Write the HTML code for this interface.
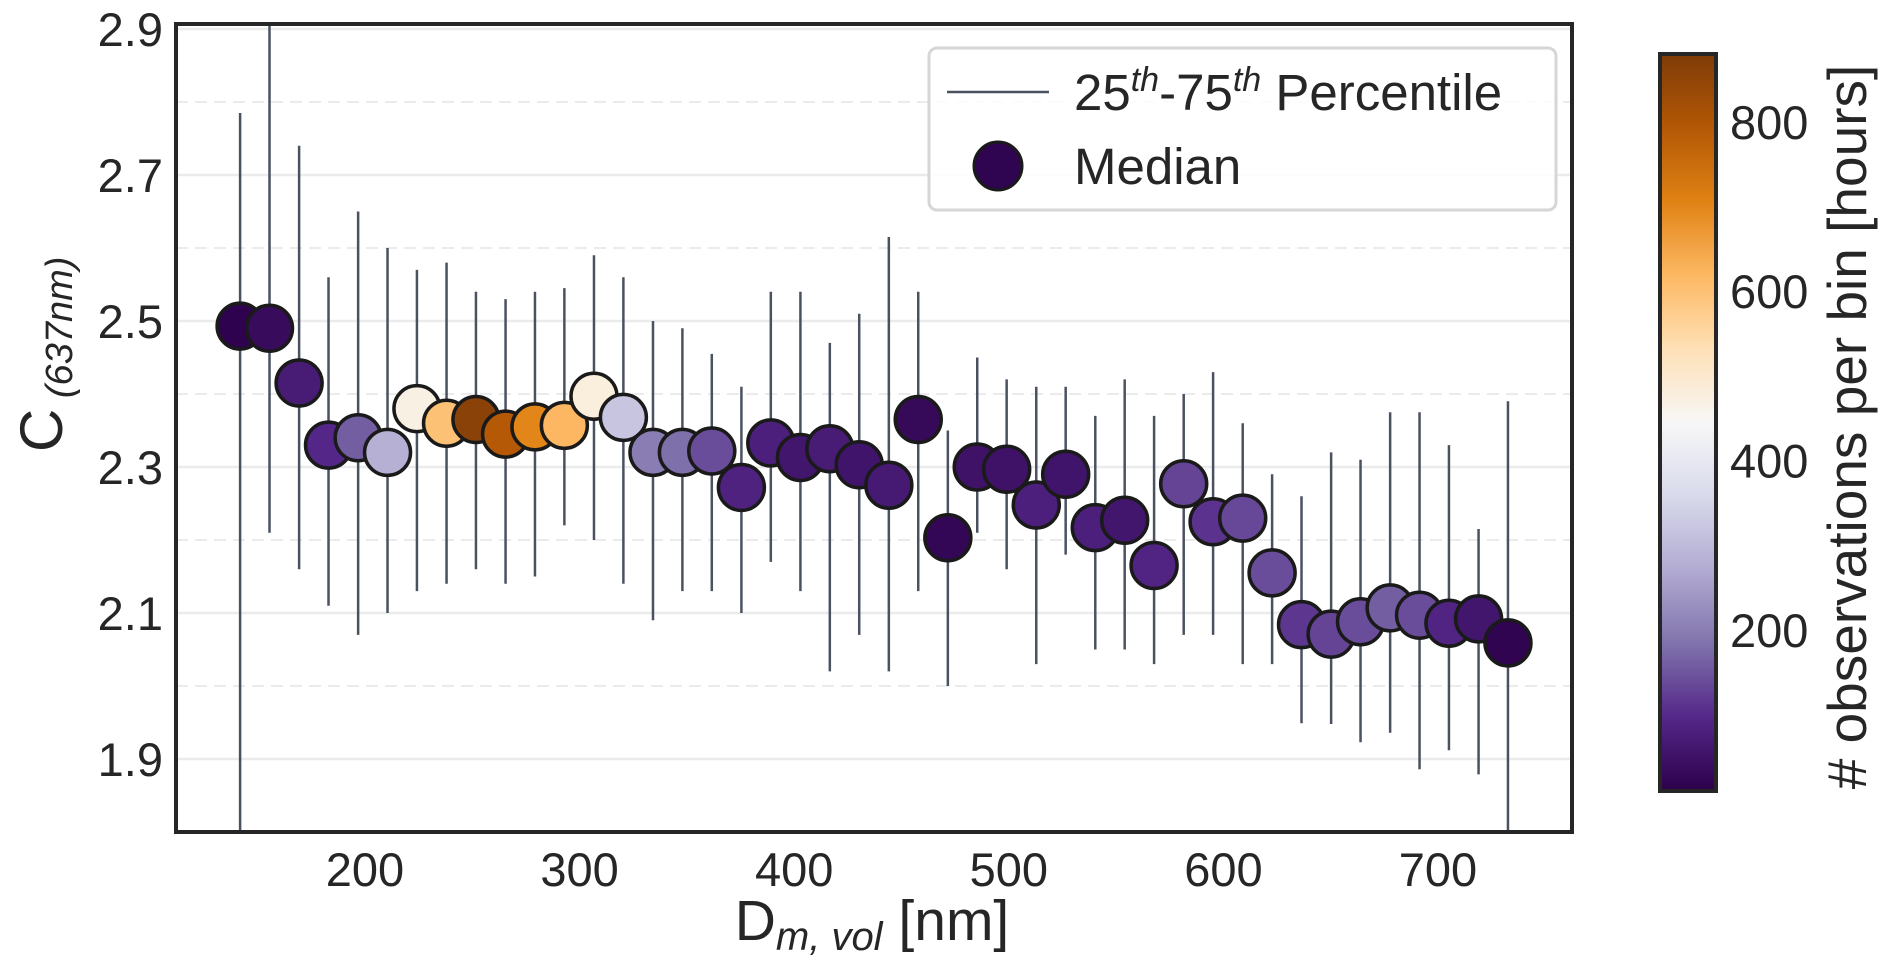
<!DOCTYPE html>
<html><head><meta charset="utf-8"><style>
html,body{margin:0;padding:0;background:#fff;}
svg{display:block;font-family:"Liberation Sans",Arial,sans-serif;}
</style></head><body>
<svg id="chart" width="1888" height="968" viewBox="0 0 1888 968" xmlns="http://www.w3.org/2000/svg">
<defs>
<linearGradient id="cbgrad" x1="0" y1="1" x2="0" y2="0">
<stop offset="0" stop-color="#2d004b"/><stop offset="0.1" stop-color="#542788"/><stop offset="0.2" stop-color="#8073ac"/><stop offset="0.3" stop-color="#b2abd2"/><stop offset="0.4" stop-color="#d8daeb"/><stop offset="0.5" stop-color="#f7f7f7"/><stop offset="0.6" stop-color="#fee0b6"/><stop offset="0.7" stop-color="#fdb863"/><stop offset="0.8" stop-color="#e08214"/><stop offset="0.9" stop-color="#b35806"/><stop offset="1" stop-color="#7f3b08"/>
</linearGradient>
<clipPath id="plotclip"><rect x="176" y="24" width="1396" height="808"/></clipPath>
</defs>
<g id="grid"></g>
<g id="whiskers" clip-path="url(#plotclip)"></g>
<g id="points"></g>
<rect x="176" y="24" width="1396" height="808" fill="none" stroke="#262626" stroke-width="4"/>
<g id="yticks" font-size="47" fill="#262626" text-anchor="end"></g>
<g id="xticks" font-size="47" fill="#262626" text-anchor="middle"></g>
<text x="872" y="940" text-anchor="middle" fill="#262626" font-size="57">D<tspan font-size="40" font-style="italic" dy="10">m, vol</tspan><tspan dy="-10"> [nm]</tspan></text>
<text transform="translate(62,452) rotate(-90)" text-anchor="start" fill="#262626" font-size="60">C<tspan font-size="38" font-style="italic" dy="10"> (637nm)</tspan></text>
<g>
<rect x="929" y="48" width="627" height="162" rx="8" fill="#fff" fill-opacity="0.85" stroke="#d6d6d6" stroke-width="3"/>
<line x1="947" y1="92" x2="1049" y2="92" stroke="#4a5260" stroke-width="2.5"/>
<text x="1074" y="110" font-size="51" fill="#262626">25<tspan font-size="34" font-style="italic" dy="-19">th</tspan><tspan dy="19">-75</tspan><tspan font-size="34" font-style="italic" dy="-19">th</tspan><tspan dy="19"> Percentile</tspan></text>
<ellipse cx="998" cy="166" rx="24" ry="24" fill="#2f0450" stroke="#1a1a1a" stroke-width="3"/>
<text x="1074" y="184" font-size="51" fill="#262626">Median</text>
</g>
<g>
<rect x="1660" y="54" width="56" height="737" fill="url(#cbgrad)" stroke="#262626" stroke-width="4"/>
<g id="cbticks" font-size="47" fill="#262626"></g>
<text transform="translate(1866,427) rotate(-90)" text-anchor="middle" font-size="55" fill="#262626"># observations per bin [hours]</text>
</g>
</svg>
<script>
const diameters = [141.8,155.5,169.3,183,196.8,210.5,224.2,238,251.7,265.5,279.2,292.9,306.7,320.4,334.2,347.9,361.6,375.4,389.1,402.9,416.6,430.3,444.1,457.8,471.6,485.3,499,512.8,526.5,540.3,554,567.7,581.5,595.2,609,622.7,636.4,650.2,663.9,677.7,691.4,705.1,718.9,732.6];
const medians = [2.493,2.49,2.415,2.33,2.34,2.32,2.38,2.36,2.365,2.345,2.355,2.357,2.397,2.368,2.32,2.32,2.322,2.272,2.333,2.313,2.325,2.303,2.275,2.365,2.203,2.3,2.297,2.248,2.29,2.217,2.227,2.165,2.277,2.225,2.23,2.155,2.084,2.071,2.088,2.107,2.097,2.086,2.092,2.059];
const q25 = [1.75,2.21,2.16,2.11,2.07,2.10,2.13,2.14,2.16,2.14,2.15,2.22,2.2,2.14,2.09,2.13,2.13,2.10,2.17,2.13,2.02,2.07,2.02,2.13,2.0,2.21,2.16,2.03,2.18,2.05,2.05,2.03,2.07,2.07,2.03,2.03,1.949,1.948,1.923,1.936,1.886,1.912,1.879,1.75];
const q75 = [2.785,2.95,2.74,2.56,2.65,2.60,2.57,2.58,2.54,2.53,2.54,2.545,2.59,2.56,2.5,2.49,2.455,2.41,2.54,2.54,2.47,2.51,2.615,2.54,2.35,2.45,2.42,2.41,2.41,2.37,2.42,2.37,2.40,2.43,2.36,2.29,2.26,2.32,2.31,2.375,2.375,2.33,2.215,2.39];
const counts = [15,35,70,95,160,280,470,600,860,790,700,620,480,320,200,180,140,85,80,60,70,55,65,30,25,50,50,80,55,80,60,90,130,110,135,140,115,130,140,160,140,90,60,20];
const yTicks = [1.9,2.1,2.3,2.5,2.7,2.9];
const yMinor = [2.0,2.2,2.4,2.6,2.8];
const xTicks = [200,300,400,500,600,700];
const cbTicks = [200,400,600,800];

const NS='http://www.w3.org/2000/svg';
const X0=176,X1=1572,Y0=24,Y1=832;
function xs(v){return 365+(v-200)*2.146;}
function ys(v){return 759-(v-1.9)*730;}
const vmin=10,vmax=880;
function cbY(v){return 791-(v-vmin)/(vmax-vmin)*737;}
const cmap=['#2d004b','#542788','#8073ac','#b2abd2','#d8daeb','#f7f7f7','#fee0b6','#fdb863','#e08214','#b35806','#7f3b08'];
function hex(h){return [1,3,5].map(i=>parseInt(h.substr(i,2),16));}
function color(v){
  let t=Math.max(0,Math.min(1,(v-vmin)/(vmax-vmin)))*10;
  let i=Math.min(9,Math.floor(t)),f=t-i;
  const a=hex(cmap[i]),b=hex(cmap[i+1]);
  return 'rgb('+a.map((c,k)=>Math.round(c+(b[k]-c)*f)).join(',')+')';
}
function mk(tag,attrs,parent){const e=document.createElementNS(NS,tag);for(const k in attrs)e.setAttribute(k,attrs[k]);parent.appendChild(e);return e;}

const grid=document.getElementById('grid');
yTicks.forEach(v=>{
  const l=mk('line',{x1:X0,x2:X1,y1:ys(v),y2:ys(v),stroke:'#ebebeb','stroke-width':2.5},grid);
  
  
});
yMinor.forEach(v=>{
  const l=mk('line',{x1:X0,x2:X1,y1:ys(v),y2:ys(v),stroke:'#ebebeb','stroke-width':2,'stroke-dasharray':'12,7'},grid);
  
  
});
const yt=document.getElementById('yticks');
yTicks.forEach(v=>{
  const t=mk('text',{x:163,y:ys(v)+17},yt);t.textContent=v.toFixed(1);
  
  
});
const xt=document.getElementById('xticks');
xTicks.forEach(v=>{
  const t=mk('text',{x:xs(v),y:886},xt);t.textContent=String(v);
  
  
});
const cbt=document.getElementById('cbticks');
cbTicks.forEach(v=>{
  const t=mk('text',{x:1730,y:cbY(v)+17},cbt);t.textContent=String(v);
  
  
});
const wg=document.getElementById('whiskers');
diameters.forEach((d,i)=>{
  const l=mk('line',{x1:xs(d),x2:xs(d),y1:ys(q25[i]),y2:ys(q75[i]),stroke:'#4a5260','stroke-width':2.5},wg);
  
  
});
const pg=document.getElementById('points');
diameters.forEach((d,i)=>{
  const c=mk('circle',{cx:xs(d),cy:ys(medians[i]),r:23,fill:color(counts[i]),stroke:'#1a1a1a','stroke-width':3.5},pg);
  
  
});
</script>
</body></html>
